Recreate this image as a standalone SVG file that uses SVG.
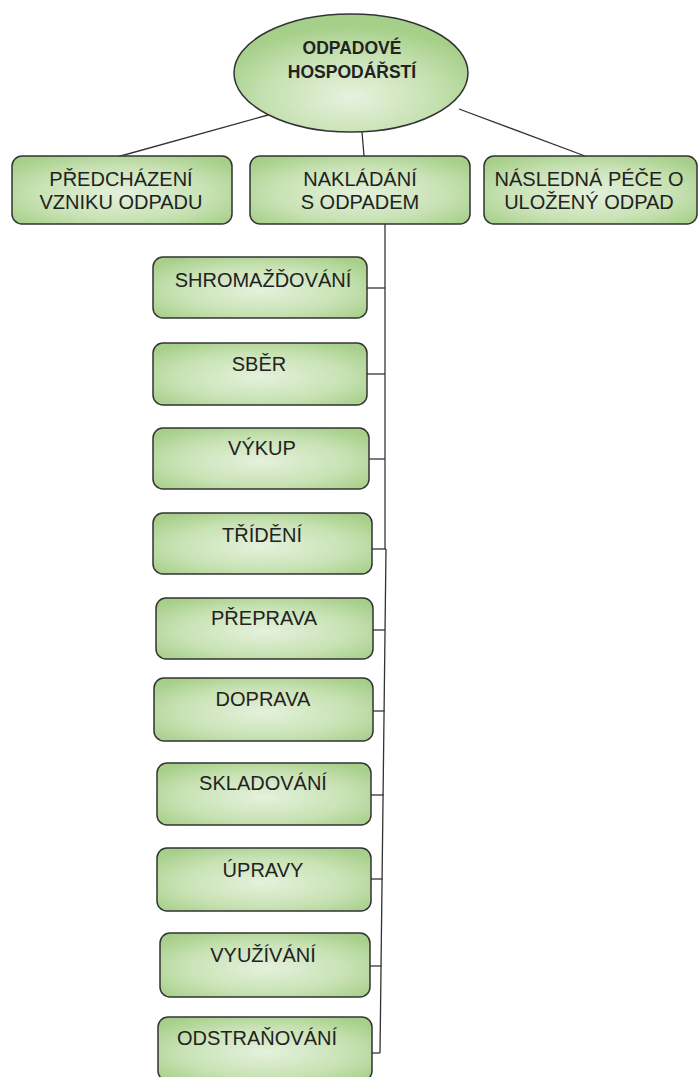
<svg xmlns="http://www.w3.org/2000/svg" width="699" height="1077" viewBox="0 0 699 1077">
<defs>
<radialGradient id="g" cx="50%" cy="55%" r="65%">
<stop offset="0" stop-color="#e4f1dc"/>
<stop offset="0.6" stop-color="#c8e2b4"/>
<stop offset="1" stop-color="#a6cf89"/>
</radialGradient>
<radialGradient id="ge" cx="50%" cy="70%" r="60%">
<stop offset="0" stop-color="#e6f2de"/>
<stop offset="0.6" stop-color="#c6e1b1"/>
<stop offset="1" stop-color="#a6cf89"/>
</radialGradient>
</defs>
<style>
.box{fill:url(#g);stroke:#333;stroke-width:1.5}
.ell{fill:url(#ge);stroke:#333;stroke-width:1.5}
.t{font-family:"Liberation Sans",Arial,sans-serif;font-size:20px;fill:#222;text-anchor:middle}
.b{font-weight:bold;font-size:17.5px}
.c{stroke:#333;stroke-width:1.3;fill:none}
</style>
<rect width="699" height="1077" fill="#fff"/>
<g id="connectors">
<line class="c" x1="268" y1="115" x2="117" y2="157"/>
<line class="c" x1="362" y1="132" x2="364" y2="156"/>
<line class="c" x1="459" y1="109" x2="585" y2="156"/>
<line class="c" x1="385" y1="224" x2="385" y2="549"/>
<line class="c" x1="386" y1="549" x2="380" y2="1053"/>
<line class="c" x1="367" y1="288" x2="385" y2="288"/>
<line class="c" x1="367" y1="374" x2="385" y2="374"/>
<line class="c" x1="369" y1="459" x2="385" y2="459"/>
<line class="c" x1="372" y1="549" x2="386" y2="549"/>
<line class="c" x1="373" y1="630" x2="385" y2="630"/>
<line class="c" x1="373" y1="711" x2="384.5" y2="711"/>
<line class="c" x1="371" y1="795" x2="383.5" y2="795"/>
<line class="c" x1="371" y1="879" x2="382.5" y2="879"/>
<line class="c" x1="370" y1="966" x2="381.5" y2="966"/>
<line class="c" x1="372" y1="1053" x2="380" y2="1053"/>
</g>
<g id="n-root">
<ellipse class="ell" cx="351" cy="73" rx="117" ry="59"/>
<text class="t b" x="352" y="54">ODPADOVÉ</text>
<text class="t b" x="352" y="78">HOSPODÁŘSTÍ</text>
</g>
<g id="n-predchazeni">
<rect class="box" x="12" y="156" width="220" height="68" rx="10"/>
<text class="t" x="121" y="186">PŘEDCHÁZENÍ</text>
<text class="t" x="121" y="209">VZNIKU ODPADU</text>
</g>
<g id="n-nakladani">
<rect class="box" x="250" y="156" width="220" height="68" rx="10"/>
<text class="t" x="360" y="186">NAKLÁDÁNÍ</text>
<text class="t" x="360" y="209">S ODPADEM</text>
</g>
<g id="n-nasledna">
<rect class="box" x="484" y="156" width="213" height="68" rx="10"/>
<text class="t" x="589" y="186">NÁSLEDNÁ PÉČE O</text>
<text class="t" x="589" y="209">ULOŽENÝ ODPAD</text>
</g>
<g id="n-shromazdovani">
<rect class="box" x="153" y="257" width="214" height="61" rx="10"/>
<text class="t" x="263" y="287">SHROMAŽĎOVÁNÍ</text>
</g>
<g id="n-sber">
<rect class="box" x="153" y="343" width="214" height="62" rx="10"/>
<text class="t" x="259" y="371">SBĚR</text>
</g>
<g id="n-vykup">
<rect class="box" x="153" y="428" width="216" height="61" rx="10"/>
<text class="t" x="262" y="455">VÝKUP</text>
</g>
<g id="n-trideni">
<rect class="box" x="153" y="513" width="219" height="61" rx="10"/>
<text class="t" x="262" y="542">TŘÍDĚNÍ</text>
</g>
<g id="n-preprava">
<rect class="box" x="156" y="598" width="217" height="61" rx="10"/>
<text class="t" x="264" y="625">PŘEPRAVA</text>
</g>
<g id="n-doprava">
<rect class="box" x="154" y="678" width="219" height="63" rx="10"/>
<text class="t" x="263" y="706">DOPRAVA</text>
</g>
<g id="n-skladovani">
<rect class="box" x="157" y="763" width="214" height="62" rx="10"/>
<text class="t" x="263" y="790">SKLADOVÁNÍ</text>
</g>
<g id="n-upravy">
<rect class="box" x="157" y="848" width="214" height="63" rx="10"/>
<text class="t" x="263" y="877">ÚPRAVY</text>
</g>
<g id="n-vyuzivani">
<rect class="box" x="160" y="933" width="210" height="64" rx="10"/>
<text class="t" x="263" y="962">VYUŽÍVÁNÍ</text>
</g>
<g id="n-odstranovani">
<rect class="box" x="158" y="1017" width="214" height="64" rx="10"/>
<text class="t" x="257" y="1045">ODSTRAŇOVÁNÍ</text>
</g>
</svg>
